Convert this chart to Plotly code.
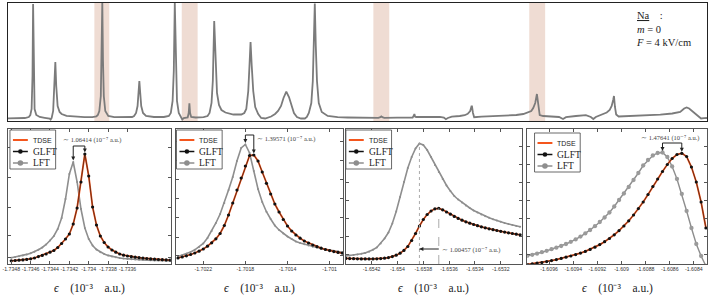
import plotly.graph_objects as go

W, H = 708, 295

# ---------------- overview spectrum (arbitrary energy index / arbitrary intensity) ----------------
spec_x = [3, 20, 24, 25.5, 26.8, 27.7, 28.3, 28.9, 29.8, 31.5, 35, 40, 44,
          45, 46, 47, 48.5, 49.8, 50.7, 51.6, 53, 55, 57, 62, 70, 80, 88, 92,
          93.5, 95, 96.5, 97.3, 98, 98.7, 99.5, 101, 104, 110, 120, 128,
          130, 132, 133.5, 134.5, 135.3, 136.2, 137.2, 139, 142, 150, 160, 165,
          167, 168.8, 170, 171, 172, 173.2, 175, 177, 178.5,
          180, 184, 185, 185.7, 186.4, 187.5, 192, 200, 204,
          206, 208, 209.3, 210.7, 212, 213.5, 215.5, 218, 222, 230, 238, 241,
          243, 245, 246.2, 247.3, 248.5, 250, 252, 255, 258, 262,
          268, 272, 275, 278, 280.5, 283.3, 286, 288.5, 291, 294, 298, 302, 304,
          306, 308.5, 310, 311, 312, 313, 314.2, 316, 319, 325, 335, 345, 355,
          370, 376, 378, 379, 380, 382, 395, 408,
          410.5, 411.5, 412.3, 413, 414, 425, 438, 442,
          444, 446, 450, 458, 463, 466, 468.5, 469.8,
          470.3, 471.3, 472.5, 480, 500, 515, 522, 527, 530, 532,
          534, 535.7, 537, 538.5, 542, 550, 558,
          562, 565, 575, 585,
          590, 592.5, 595, 601, 606, 609, 611, 612.5, 613.3, 614.3, 615.5, 618, 630, 645, 660, 672, 680,
          684, 686.5, 689, 692, 695, 698, 701, 704, 707]
spec_y = [2.7, 3, 4, 6, 12, 45, 117, 45, 12, 6, 4, 3.2, 3,
          2.5, 1.5, 3, 10, 35, 59, 35, 15, 9, 7, 5.2, 4.3, 3.8, 3.8, 4.5,
          6, 10, 25, 60, 119, 60, 25, 10, 5, 3.8, 3.5, 4,
          5, 8, 15, 28, 40, 28, 15, 8, 5, 4, 4, 5,
          8, 20, 50, 118, 50, 20, 8, 4, 1.5,
          3, 3.5, 8, 17.7, 8, 4, 3.5, 3.8, 5,
          8, 18, 40, 100, 55, 28, 16, 11, 8.5, 6.5, 6.5, 8,
          12, 30, 55, 79, 55, 30, 14, 7, 3, 2.5,
          4.5, 7, 10, 15, 23, 29.3, 24, 15, 8, 4, 2.5, 2.5, 4,
          8, 18, 40, 75, 117.5, 75, 40, 18, 9, 5, 3.8, 3.5, 3.3,
          3, 3.2, 3.8, 4.6, 3.8, 3.2, 3.3, 3.4,
          3.5, 5, 7, 4.5, 4, 4, 4.2, 3.5,
          1.8, 3, 4.3, 5, 5.8, 7.2, 10, 14.5,
          14.5, 8, 3.8, 4.4, 5.2, 6, 7, 8.5, 10, 13,
          18, 27, 14, 6, 5, 4.6, 4,
          2, 3.8, 5, 5.8,
          4, 2, 4, 6.5, 8.5, 11, 15, 21, 25, 14, 6.5, 4.5, 4.8, 5.5, 6.3, 7.5, 9,
          12.5, 13.5, 12.5, 10, 7, 4.5, 2.5, 2.8, 3]
band_lo = [90, 178, 371, 528]
band_hi = [105, 194, 387, 544]

# ---------------- zoomed resonances (energy in 1e-3 a.u., arbitrary intensity) ----------------
p1_x = [-1.73480, -1.73476, -1.73472, -1.73468, -1.73464, -1.73460, -1.73456, -1.73452, -1.73448, -1.73444,
        -1.73440, -1.73436, -1.73432, -1.73428, -1.73424, -1.73420, -1.73416, -1.73412, -1.73408, -1.73404,
        -1.73400, -1.73396, -1.73392, -1.73388, -1.73384, -1.73380, -1.73376, -1.73372, -1.73368, -1.73364,
        -1.73360, -1.73356, -1.73352, -1.73348, -1.73344, -1.73340, -1.73336, -1.73332, -1.73328, -1.73324,
        -1.73320, -1.73316]
p1_glft = [3.2, 3.5, 3.8, 4.1, 4.6, 5.2, 6.0, 7.4, 8.6, 10.0,
           11.8, 13.5, 16.5, 20.5, 25, 30, 40, 56, 82, 110,
           88, 57, 39, 28, 21.5, 17, 14, 11.8, 10, 8.8,
           8.0, 7.3, 6.8, 6.3, 5.9, 5.5, 5.1, 4.8, 4.5, 4.3,
           4.1, 3.9]
p1_tdse = p1_glft
p1_lft = [6.3, 7.0, 7.8, 8.6, 9.6, 10.8, 12.3, 14.2, 16.5, 19.5,
          23.5, 28, 35, 46, 65, 90, 102, 82, 55, 36,
          25, 18.5, 14.5, 11.8, 10, 8.6, 7.5, 6.7, 6.0, 5.5,
          5.1, 4.8, 4.5, 4.3, 4.1, 3.9, 3.7, 3.6, 3.5, 3.4,
          3.3, 3.2]
p1_ticks = [-1.7348, -1.7346, -1.7344, -1.7342, -1.734, -1.7338, -1.7336]

p2_x = [-1.70244, -1.70240, -1.70236, -1.70232, -1.70228, -1.70224, -1.70220, -1.70216, -1.70212, -1.70208,
        -1.70204, -1.70200, -1.70196, -1.70192, -1.70188, -1.70184, -1.70180, -1.70176, -1.70172, -1.70168,
        -1.70164, -1.70160, -1.70156, -1.70152, -1.70148, -1.70144, -1.70140, -1.70136, -1.70132, -1.70128,
        -1.70124, -1.70120, -1.70116, -1.70112, -1.70108, -1.70104, -1.70100, -1.70096, -1.70092, -1.70088]
p2_glft = [6.0, 7.0, 8.2, 9.5, 11.0, 12.8, 15.0, 17.8, 21.2, 25.2,
           30.5, 38.5, 49, 61, 74, 86, 98, 108.5, 109, 103,
           92, 80.7, 70, 60, 52, 44.5, 38, 33, 29, 25.8,
           23, 21, 19, 17.3, 15.8, 14.5, 13.4, 12.4, 11.6, 10.9]
p2_tdse = p2_glft
p2_lft = [7.5, 8.8, 10.2, 12.0, 14.2, 17.0, 20.5, 26, 33, 41,
          50, 61, 74, 87, 103, 116, 119.5, 111, 93, 75,
          62, 52.3, 45, 38.5, 34, 30.5, 27.5, 25, 22.5, 21,
          19.8, 18.5, 17.3, 16.4, 15.5, 14.7, 14, 13.2, 12.5, 11.8]
p2_ticks = [-1.7022, -1.7018, -1.7014, -1.701]

p3_x = [-1.65440, -1.65437, -1.65434, -1.65431, -1.65428, -1.65425, -1.65422, -1.65419, -1.65416, -1.65413,
        -1.65410, -1.65407, -1.65404, -1.65401, -1.65398, -1.65395, -1.65392, -1.65389, -1.65386, -1.65383,
        -1.65380, -1.65377, -1.65374, -1.65371, -1.65368, -1.65365, -1.65362, -1.65359, -1.65356, -1.65353,
        -1.65350, -1.65347, -1.65344, -1.65341, -1.65338, -1.65335, -1.65332, -1.65329, -1.65326, -1.65323,
        -1.65320, -1.65317, -1.65314, -1.65311, -1.65308, -1.65305]
p3_glft = [5.6, 5.4, 5.3, 5.2, 5.1, 5.1, 5.1, 5.1, 5.2, 5.4,
           5.8, 6.4, 7.4, 8.8, 10.8, 13.6, 17.5, 23.5, 30.5, 38,
           44.5, 49.5, 53, 55.2, 55.6, 54.2, 52, 49.8, 47.6, 45.6,
           43.8, 42.2, 40.8, 39.5, 38.3, 37.2, 36.2, 35.2, 34.3, 33.5,
           32.7, 31.9, 31.2, 30.5, 29.8, 29.2]
p3_tdse = p3_glft
p3_lft = [8, 8.4, 8.9, 9.4, 10.2, 11.1, 12.3, 14.2, 16.5, 20.5,
          25.5, 31.5, 40.5, 52.5, 67, 82, 96, 107, 115.5, 120.5,
          119, 114, 107, 99, 92, 85, 78.5, 73, 68, 64.5,
          61.5, 58.5, 56, 53.5, 51.5, 49.5, 47.8, 46.2, 44.8, 43.4,
          42.2, 41, 40, 39, 38.1, 37.3]
p3_ticks = [-1.6542, -1.654, -1.6538, -1.6536, -1.6534, -1.6532]

p4_x = [-1.60978, -1.60974, -1.60970, -1.60966, -1.60962, -1.60958, -1.60954, -1.60950, -1.60946, -1.60942,
        -1.60938, -1.60934, -1.60930, -1.60926, -1.60922, -1.60918, -1.60914, -1.60910, -1.60906, -1.60902,
        -1.60898, -1.60894, -1.60890, -1.60886, -1.60882, -1.60878, -1.60874, -1.60870, -1.60866, -1.60862,
        -1.60858, -1.60854, -1.60850, -1.60846, -1.60842, -1.60838, -1.60834, -1.60830]
p4_glft = [-0.5, 0.2, 0.9, 1.5, 2.4, 3.4, 4.4, 5.6, 6.8, 8.0,
           9.4, 10.9, 12.6, 14.6, 16.8, 19.4, 22.3, 25.5, 29.2, 33.4,
           38, 43.2, 49, 55.4, 62, 69.5, 77.5, 85, 92.5, 99.5,
           105.5, 109.5, 110.7, 107.5, 97, 82, 62, 36]
p4_tdse = p4_glft
p4_lft = [8.2, 9.2, 10.4, 11.8, 13.2, 14.8, 16.3, 18.0, 20.0, 22.2,
          24.6, 27.4, 30.6, 34, 37.8, 42, 46.5, 51.5, 57.5, 64,
          70.5, 77, 84, 91, 98.5, 104, 108.5, 111, 111.5, 107,
          97.5, 85, 70, 53, 36, 20, 8, -2]
p4_ticks = [-1.6096, -1.6094, -1.6092, -1.609, -1.6088, -1.6086, -1.6084]

shift_labels = ["1.06414", "1.39571", "1.00457", "1.47641"]
series_names = ["TDSE", "GLFT", "LFT"]

# ---------------- styling / layout ----------------
ORANGE = "#f4561d"
BLACK = "#111111"
GRAY = "#8e8e8e"
SERIF = "Liberation Serif"
SANS = "Liberation Sans"


def xp(px):
    return px / W


def yp(py):
    return 1 - py / H


panels = [
    dict(x=p1_x, tdse=p1_tdse, glft=p1_glft, lft=p1_lft, ticks=p1_ticks,
         rng=[-1.734834, -1.733152], px=(3, 167), lms=2, ytk=[7, 29, 57, 87, 117]),
    dict(x=p2_x, tdse=p2_tdse, glft=p2_glft, lft=p2_lft, ticks=p2_ticks,
         rng=[-1.702461, -1.700870], px=(172, 340.7), lms=2, ytk=[9, 27, 47, 66, 85, 104, 123]),
    dict(x=p3_x, tdse=p3_tdse, glft=p3_glft, lft=p3_lft, ticks=p3_ticks,
         rng=[-1.654402, -1.653033], px=(343, 521), lms=2, ytk=[10, 28, 46, 64, 82, 100, 118]),
    dict(x=p4_x, tdse=p4_tdse, glft=p4_glft, lft=p4_lft, ticks=p4_ticks,
         rng=[-1.609781, -1.608291], px=(526, 707), lms=4.3, ytk=[10, 28, 46, 64, 82, 100, 118]),
]
BOT_TOP, BOT_BOT = 129, 264
YMAX = 135


def dpx(P, x):
    r0, r1 = P["rng"]
    a, b = P["px"]
    return a + (x - r0) / (r1 - r0) * (b - a)


def dpy(y):
    return BOT_BOT - y / YMAX * (BOT_BOT - BOT_TOP)


def tri(pts):
    return "M " + " L ".join(f"{xp(a):.5f},{yp(b):.5f}" for a, b in pts) + " Z"


fig = go.Figure()

fig.add_trace(go.Scatter(x=spec_x, y=spec_y, mode="lines", line=dict(color="#7b7b7b", width=1.8),
                         showlegend=False, hoverinfo="skip", xaxis="x", yaxis="y"))

layout = dict(
    width=W, height=H, margin=dict(l=0, r=0, t=0, b=0),
    paper_bgcolor="white", plot_bgcolor="white", showlegend=False,
    xaxis=dict(domain=[xp(3), xp(707)], range=[3, 707], showline=True, mirror=True,
               linecolor="#222", linewidth=1.2, showticklabels=False, ticks="",
               showgrid=False, zeroline=False, anchor="y"),
    yaxis=dict(domain=[yp(121), yp(3)], range=[0, 118], showline=True, mirror=True,
               linecolor="#222", linewidth=1.2, showticklabels=False, ticks="",
               showgrid=False, zeroline=False, anchor="x"),
)

shapes = []
annotations = []

for lo, hi in zip(band_lo, band_hi):
    shapes.append(dict(type="rect", xref="x", yref="y", x0=lo, x1=hi, y0=0, y1=118,
                       fillcolor="#efdcd3", line=dict(width=0), layer="below"))

for k, P in enumerate(panels):
    n = k + 2
    xa, ya = f"x{n}", f"y{n}"
    fig.add_trace(go.Scatter(x=P["x"], y=P["lft"], mode="lines+markers", name="LFT",
                             line=dict(color=GRAY, width=1.6 if k < 3 else 1.4),
                             marker=dict(color=GRAY if k < 3 else "#9a9a9a", size=P["lms"]),
                             xaxis=xa, yaxis=ya, showlegend=False, hoverinfo="skip"))
    fig.add_trace(go.Scatter(x=P["x"], y=P["tdse"], mode="lines", name="TDSE",
                             line=dict(color=ORANGE, width=1.8),
                             xaxis=xa, yaxis=ya, showlegend=False, hoverinfo="skip"))
    fig.add_trace(go.Scatter(x=P["x"], y=P["glft"], mode="lines+markers", name="GLFT",
                             line=dict(color=BLACK, width=0.6),
                             marker=dict(color=BLACK, size=3.2),
                             xaxis=xa, yaxis=ya, showlegend=False, hoverinfo="skip"))
    layout[f"xaxis{n}"] = dict(
        domain=[xp(P["px"][0]), xp(P["px"][1])], range=P["rng"], anchor=ya,
        tickvals=P["ticks"], ticktext=[f"{t:g}" for t in P["ticks"]], tickangle=0,
        ticklabeloverflow="allow",
        ticks="inside", ticklen=3, tickcolor="#555", mirror="ticks", showline=True,
        linecolor="#555", linewidth=1, showgrid=False, zeroline=False,
        tickfont=dict(family=SANS, size=5.2, color="#333"))
    layout[f"yaxis{n}"] = dict(
        domain=[yp(BOT_BOT), yp(BOT_TOP)], range=[0, YMAX], anchor=xa,
        tickvals=P["ytk"], showticklabels=False,
        ticks="inside", ticklen=3, tickcolor="#555", mirror="ticks", showline=True,
        linecolor="#555", linewidth=1, showgrid=False, zeroline=False)

    cx = (P["px"][0] + P["px"][1]) / 2
    annotations.append(dict(xref="paper", yref="paper", x=xp(cx), y=yp(288), showarrow=False,
                            text="<i>ϵ</i>\u2002\u2002(10⁻³\u2002\u2002a.u.)",
                            font=dict(family=SERIF, size=11.5, color="#222"),
                            xanchor="center", yanchor="middle"))

    iL = max(range(len(P["lft"])), key=lambda i: P["lft"][i])
    iG = max(range(len(P["glft"])), key=lambda i: P["glft"][i])
    xL, yL = P["x"][iL], P["lft"][iL]
    xG, yG = P["x"][iG], P["glft"][iG]
    label = f"∼ {shift_labels[k]} (10⁻⁷ a.u.)"
    lab_font = dict(family=SERIF, size=6.5, color="#444")
    if k in (0, 1, 3):
        top_h = {0: 118, 1: 129, 3: 121}[k]
        shapes.append(dict(type="line", xref=xa, yref=ya, x0=xL, x1=xG, y0=top_h, y1=top_h,
                           line=dict(color="#222", width=1)))
        for xx, yy in ((xL, yL), (xG, yG)):
            tip = dpy(yy) - 1.5
            ax_ = dpx(P, xx)
            shapes.append(dict(type="line", xref=xa, yref=ya, x0=xx, x1=xx, y0=top_h, y1=yy + 3,
                               line=dict(color="#222", width=1)))
            shapes.append(dict(type="path", xref="paper", yref="paper",
                               path=tri([(ax_ - 2, tip - 4), (ax_ + 2, tip - 4), (ax_, tip)]),
                               fillcolor="#222", line=dict(width=0)))
        if k == 0:
            annotations.append(dict(xref="paper", yref="paper", x=xp(88), y=yp(140), text=label,
                                    showarrow=False, font=lab_font, xanchor="center", yanchor="middle"))
        elif k == 1:
            annotations.append(dict(xref="paper", yref="paper", x=xp(252), y=yp(139), text=label,
                                    showarrow=False, font=lab_font, xanchor="left", yanchor="middle"))
        else:
            annotations.append(dict(xref="paper", yref="paper", x=xp(670), y=yp(138), text=label,
                                    showarrow=False, font=lab_font, xanchor="center", yanchor="middle"))
    else:
        shapes.append(dict(type="line", xref=xa, yref=ya, x0=xL, x1=xL, y0=0, y1=yL,
                           line=dict(color="#aaaaaa", width=1, dash="dot")))
        shapes.append(dict(type="line", xref=xa, yref=ya, x0=xG, x1=xG, y0=0, y1=yG,
                           line=dict(color="#aaaaaa", width=1, dash="dash")))
        shapes.append(dict(type="line", xref=xa, yref=ya, x0=xL, x1=xG, y0=15, y1=15,
                           line=dict(color="#222", width=1)))
        lpx, hpy = dpx(P, xL), dpy(15)
        shapes.append(dict(type="path", xref="paper", yref="paper",
                           path=tri([(lpx + 4, hpy - 2), (lpx + 4, hpy + 2), (lpx, hpy)]),
                           fillcolor="#222", line=dict(width=0)))
        annotations.append(dict(xref="paper", yref="paper", x=xp(438), y=yp(250), text=label,
                                showarrow=False, font=lab_font, xanchor="left", yanchor="middle"))

    # per-panel legend
    lx = [5, 172.7, 343.3, 533.3][k]
    ly = [130, 130, 130, 133][k]
    shapes.append(dict(type="rect", xref="paper", yref="paper", x0=xp(lx), x1=xp(lx + 46),
                       y0=yp(ly + 39), y1=yp(ly), fillcolor="white", line=dict(color="#444", width=0.8)))
    rows = [ly + 10, ly + 21.5, ly + 33]
    colors = [ORANGE, BLACK, GRAY]
    for r, (name, col, ry) in enumerate(zip(series_names, colors, rows)):
        shapes.append(dict(type="line", xref="paper", yref="paper", x0=xp(lx + 3), x1=xp(lx + 18),
                           y0=yp(ry), y1=yp(ry), line=dict(color=col, width=2 if r == 0 else 1.5)))
        if r > 0:
            rad = 2.3 if r == 1 else 2.8
            shapes.append(dict(type="circle", xref="paper", yref="paper",
                               x0=xp(lx + 10.5 - rad), x1=xp(lx + 10.5 + rad),
                               y0=yp(ry + rad), y1=yp(ry - rad), fillcolor=col, line=dict(width=0)))
        annotations.append(dict(xref="paper", yref="paper", x=xp(lx + 21), y=yp(ry), text=name,
                                showarrow=False, xanchor="left", yanchor="middle",
                                font=dict(family=SANS if r == 0 else SERIF, size=7 if r == 0 else 9.5,
                                          color="#222")))

annotations.append(dict(xref="paper", yref="paper", x=xp(633), y=yp(8), showarrow=False,
                        text="<u>Na</u>\u2002\u2002:<br><i>m</i> = 0<br><i>F</i> = 4 kV/cm",
                        align="left", xanchor="left", yanchor="top",
                        font=dict(family=SERIF, size=10.5, color="#222")))

layout["shapes"] = shapes
layout["annotations"] = annotations
fig.update_layout(**layout)
fig.write_html("out.html", config={"displayModeBar": False},
               post_script="document.body.style.margin='0';document.body.style.overflow='hidden';")
